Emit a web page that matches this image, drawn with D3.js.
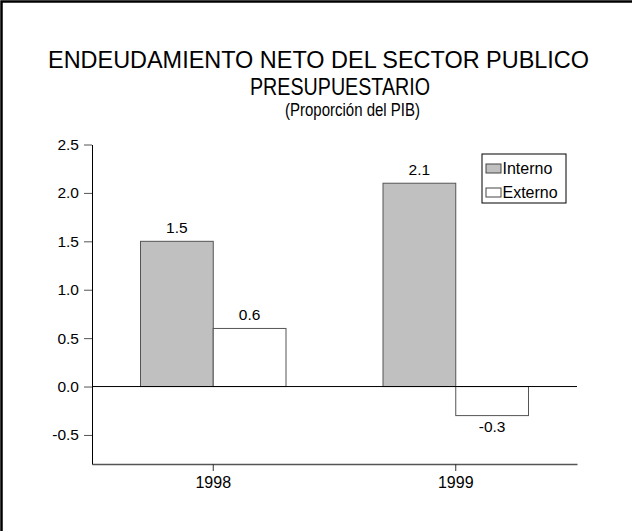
<!DOCTYPE html>
<html>
<head>
<meta charset="utf-8">
<script src="https://cdnjs.cloudflare.com/ajax/libs/d3/7.8.5/d3.min.js"></script>
<style>
  body { margin: 0; background: #fff; }
  text { font-family: "Liberation Sans", Arial, sans-serif; fill: #000; }
</style>
</head>
<body>
<div class="chart"></div>
<script>

const categories = ["1998", "1999"];
const interno = [1.5, 2.1];
const externo = [0.6, -0.3];
const series = ["Interno", "Externo"];
const yTicks = [-0.5, 0.0, 0.5, 1.0, 1.5, 2.0, 2.5];

const w = 632;
const h = 531;
const plotL = 92, plotR = 577, plotT = 144.5, plotB = 464;
const colors = ["#c0c0c0", "#ffffff"];
const fmt = d3.formatLocale({decimal: ".", thousands: ",", grouping: [3], currency: ["", ""], minus: "-"}).format(".1f");

const svg = d3.select(".chart")
              .append("svg")
              .attr("width", w)
              .attr("height", h);

// frame (only top and left edges show in the original)
svg.append("path")
   .attr("d", "M1.5," + h + "V1.5H" + w)
   .attr("fill", "none")
   .attr("stroke", "#000")
   .attr("stroke-width", 2.5);

// title
const titles = [
  {t: "ENDEUDAMIENTO NETO DEL SECTOR PUBLICO", x: 48, y: 68, size: 24, len: 541},
  {t: "PRESUPUESTARIO", x: 250, y: 95, size: 23.5, len: 180},
  {t: "(Proporción del PIB)", x: 285, y: 116, size: 17.5, len: 135}
];
svg.selectAll(".title")
   .data(titles)
   .enter()
   .append("text")
   .attr("class", "title")
   .attr("x", d => d.x)
   .attr("y", d => d.y)
   .attr("font-size", d => d.size)
   .attr("textLength", d => d.len)
   .attr("lengthAdjust", "spacingAndGlyphs")
   .text(d => d.t);

const xScale = d3.scaleBand()
                 .domain(categories)
                 .range([plotL, plotR])
                 .paddingInner(0.4)
                 .paddingOuter(0.2);

const xSub = d3.scaleBand()
               .domain(series)
               .range([0, xScale.bandwidth()]);

const yScale = d3.scaleLinear()
                 .domain([-0.8, 2.5])
                 .range([plotB, plotT]);

const rows = [];
categories.forEach((c, i) => {
  rows.push({cat: c, s: "Interno", v: interno[i]});
  rows.push({cat: c, s: "Externo", v: externo[i]});
});

svg.selectAll("rect.bar")
   .data(rows)
   .enter()
   .append("rect")
   .attr("class", "bar")
   .attr("x", d => xScale(d.cat) + xSub(d.s))
   .attr("y", d => yScale(Math.max(0, d.v)))
   .attr("width", xSub.bandwidth())
   .attr("height", d => Math.abs(yScale(d.v) - yScale(0)))
   .attr("fill", d => colors[series.indexOf(d.s)])
   .attr("stroke", "#555")
   .attr("stroke-width", 1);

svg.selectAll("text.val")
   .data(rows)
   .enter()
   .append("text")
   .attr("class", "val")
   .attr("x", d => xScale(d.cat) + xSub(d.s) + xSub.bandwidth() / 2)
   .attr("y", d => d.v >= 0 ? yScale(d.v) - 8 : yScale(d.v) + 16)
   .attr("text-anchor", "middle")
   .attr("font-size", 15.5)
   .text(d => fmt(d.v));

// zero line
svg.append("line")
   .attr("x1", plotL)
   .attr("x2", plotR)
   .attr("y1", yScale(0))
   .attr("y2", yScale(0))
   .attr("stroke", "#000");

const xAxis = d3.axisBottom(xScale).tickSizeOuter(0).tickSizeInner(7).tickPadding(6);
const yAxis = d3.axisLeft(yScale).tickValues(yTicks).tickFormat(fmt)
                .tickSizeOuter(0).tickSizeInner(8).tickPadding(5);

const gx = svg.append("g")
   .attr("transform", "translate(0," + plotB + ")")
   .call(xAxis);
gx.select(".domain").attr("stroke", "#555").attr("stroke-width", 1.5);
gx.selectAll("line").attr("stroke", "#333");
gx.selectAll("text").attr("font-size", 16).attr("font-family", null).attr("fill", "#000");

const gy = svg.append("g")
   .attr("transform", "translate(" + plotL + ",0)")
   .call(yAxis);
gy.select(".domain").attr("stroke", "#000");
gy.selectAll("line").attr("stroke", "#555");
gy.selectAll("text").attr("font-size", 15.5).attr("font-family", null).attr("fill", "#000");

// legend
const lg = svg.append("g").attr("transform", "translate(482,154)");
lg.append("rect")
  .attr("width", 84)
  .attr("height", 49)
  .attr("fill", "#fff")
  .attr("stroke", "#000");
lg.selectAll("g.item")
  .data(series)
  .enter()
  .append("g")
  .attr("class", "item")
  .attr("transform", (d, i) => "translate(4," + (10 + i * 24) + ")")
  .each(function(d, i) {
    const g = d3.select(this);
    g.append("rect")
     .attr("width", 15)
     .attr("height", 9)
     .attr("fill", colors[i])
     .attr("stroke", "#444");
    g.append("text")
     .attr("x", 16.5)
     .attr("y", 9.5)
     .attr("font-size", 16)
     .text(d);
  });

</script>
</body>
</html>
